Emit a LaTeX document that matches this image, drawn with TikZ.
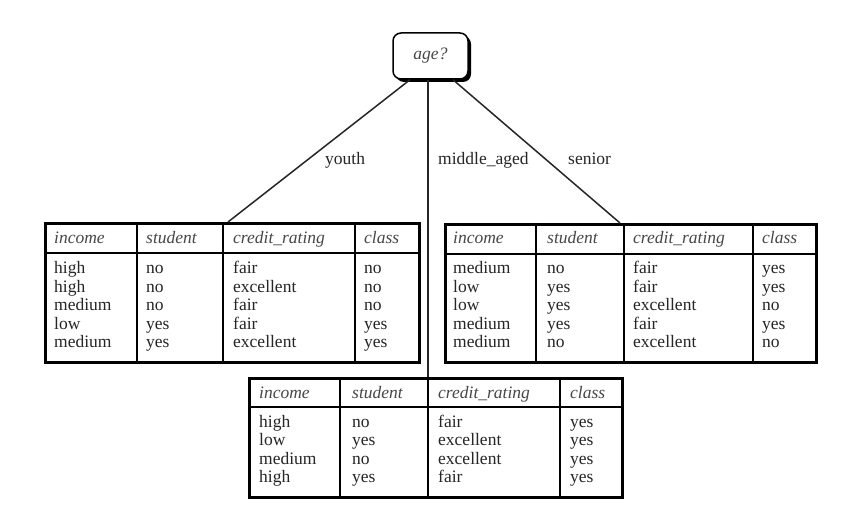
\documentclass[tikz,border=0pt]{standalone}
\usepackage{fontspec}
\setmainfont{Liberation Serif}
\usetikzlibrary{shadows}
\definecolor{txt}{HTML}{262626}
\definecolor{hdr}{HTML}{474747}
\begin{document}
\begin{tikzpicture}[x=1pt,y=-1pt,
  cell/.style={anchor=west,inner sep=0pt,text height=12pt,text depth=4pt,
    font=\fontsize{17.5}{18}\selectfont,text=txt},
  hcell/.style={cell,font=\fontsize{17.5}{18}\selectfont\itshape,text=hdr},
  tbl/.style={draw=black,line width=2.6pt,anchor=north west,inner sep=0pt},
  rule/.style={draw=black,line width=2.6pt},
  edge/.style={draw=black!85,line width=1.5pt},
  lbl/.style={cell},
  agebox/.style={draw=black,line width=1.5pt,rounded corners=8pt,fill=white,
    minimum width=75pt,minimum height=46pt,
    drop shadow={shadow xshift=3pt,shadow yshift=-3pt,opacity=1,fill=black},
    font=\fontsize{17.5}{18}\selectfont\itshape,text=hdr}]
\useasboundingbox[fill=white] (0,0) rectangle (851,521);

% root
\node[agebox] (age) at (430.5,56) {age?};

% ---------- left table (youth)
\node[tbl,minimum width=374pt,minimum height=139pt] (T1) at (44,222) {};
\coordinate (T1in) at (228,222);
\draw[rule] (44,253) -- (418,253);
\foreach \x in {137,223,355} \draw[rule] (\x,222) -- (\x,361);
\node[hcell] (T1h1) at (54,240) {income};
\node[hcell] (T1h2) at (146,240) {student};
\node[hcell] (T1h3) at (233,240) {credit\_rating};
\node[hcell] (T1h4) at (364,240) {class};
\foreach \a/\b/\c/\d [count=\i] in {high/no/fair/no,high/no/excellent/no,medium/no/fair/no,low/yes/fair/yes,medium/yes/excellent/yes}{
  \node[cell] (T1r\i a) at (54,{251.4+18.4*\i}) {\a};
  \node[cell] (T1r\i b) at (146,{251.4+18.4*\i}) {\b};
  \node[cell] (T1r\i c) at (233,{251.4+18.4*\i}) {\c};
  \node[cell] (T1r\i d) at (364,{251.4+18.4*\i}) {\d};
}

% ---------- right table (senior)
\node[tbl,minimum width=371pt,minimum height=138pt] (T3) at (444,223) {};
\coordinate (T3in) at (620,223);
\draw[rule] (444,254) -- (815,254);
\foreach \x in {536,624,753} \draw[rule] (\x,223) -- (\x,361);
\node[hcell] (T3h1) at (453,240) {income};
\node[hcell] (T3h2) at (547,240) {student};
\node[hcell] (T3h3) at (633,240) {credit\_rating};
\node[hcell] (T3h4) at (762,240) {class};
\foreach \a/\b/\c/\d [count=\i] in {medium/no/fair/yes,low/yes/fair/yes,low/yes/excellent/no,medium/yes/fair/yes,medium/no/excellent/no}{
  \node[cell] (T3r\i a) at (453,{251.4+18.4*\i}) {\a};
  \node[cell] (T3r\i b) at (547,{251.4+18.4*\i}) {\b};
  \node[cell] (T3r\i c) at (633,{251.4+18.4*\i}) {\c};
  \node[cell] (T3r\i d) at (762,{251.4+18.4*\i}) {\d};
}

% ---------- bottom table (middle_aged)
\node[tbl,minimum width=373pt,minimum height=119pt] (T2) at (248,377) {};
\coordinate (T2in) at (428,377);
\draw[rule] (248,407) -- (621,407);
\foreach \x in {340,428,560} \draw[rule] (\x,377) -- (\x,496);
\node[hcell] (T2h1) at (259,394) {income};
\node[hcell] (T2h2) at (352,394) {student};
\node[hcell] (T2h3) at (438,394) {credit\_rating};
\node[hcell] (T2h4) at (570,394) {class};
\foreach \a/\b/\c/\d [count=\i] in {high/no/fair/yes,low/yes/excellent/yes,medium/no/excellent/yes,high/yes/fair/yes}{
  \node[cell] (T2r\i a) at (259,{404.5+18.5*\i}) {\a};
  \node[cell] (T2r\i b) at (352,{404.5+18.5*\i}) {\b};
  \node[cell] (T2r\i c) at (438,{404.5+18.5*\i}) {\c};
  \node[cell] (T2r\i d) at (570,{404.5+18.5*\i}) {\d};
}

% ---------- connectors
\draw[edge] ([xshift=-20.5pt]age.south) -- (T1in);
\draw[edge] ([xshift=-2.5pt]age.south) -- (T2in);
\draw[edge] ([xshift=22.5pt]age.south) -- (T3in);

% ---------- branch labels
\node[lbl] (lyouth) at (325,161) {youth};
\node[lbl] (lmid) at (438,161) {middle\_aged};
\node[lbl] (lsen) at (568,161) {senior};
\end{tikzpicture}
\end{document}
